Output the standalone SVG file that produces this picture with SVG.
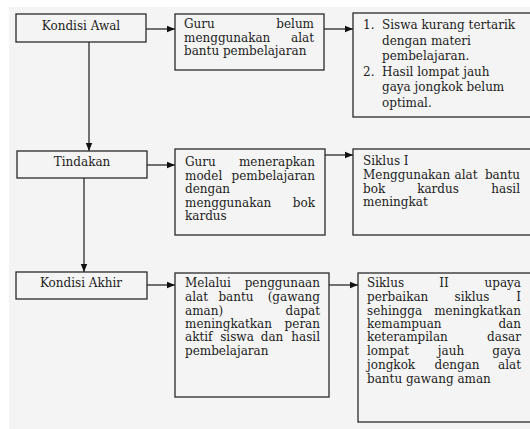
<svg xmlns="http://www.w3.org/2000/svg" width="530" height="429" viewBox="0 0 530 429">
<style>
.bx{fill:none;stroke:#2a2a2a;stroke-width:1.3}
.cn{stroke:#1a1a1a;stroke-width:1.2;fill:none}
text{font-family:"DejaVu Serif","Liberation Serif",serif;font-size:12px;fill:#1c1c1c}
.c{text-anchor:middle}
.e{text-anchor:end}
.m{text-anchor:middle}
</style>
<defs>
<marker id="ah" viewBox="0 0 8 8" refX="8" refY="4" markerWidth="8" markerHeight="8" markerUnits="userSpaceOnUse" orient="auto">
<path d="M0,0.8 L8,4 L0,7.2 Z" fill="#111"/>
</marker>
</defs>
<rect x="0" y="0" width="530" height="429" fill="#ffffff"/>
<rect x="9" y="7" width="521" height="422" fill="#f4f4f4"/>

<g id="connectors">
<line class="cn" x1="146" y1="29" x2="175" y2="29" marker-end="url(#ah)"/>
<line class="cn" x1="324" y1="29" x2="353" y2="29" marker-end="url(#ah)"/>
<line class="cn" x1="89" y1="42" x2="89" y2="151" marker-end="url(#ah)"/>
<line class="cn" x1="147" y1="165" x2="175" y2="165" marker-end="url(#ah)"/>
<line class="cn" x1="325" y1="155" x2="353" y2="155" marker-end="url(#ah)"/>
<line class="cn" x1="84" y1="178" x2="84" y2="272" marker-end="url(#ah)"/>
<line class="cn" x1="147" y1="285" x2="175" y2="285" marker-end="url(#ah)"/>
<line class="cn" x1="329" y1="285" x2="358" y2="285" marker-end="url(#ah)"/>
</g>

<g id="kondisi-awal">
<rect class="bx" x="16" y="14" width="130" height="28"/>
<text class="c" x="81" y="30">Kondisi Awal</text>
</g>

<g id="guru-belum">
<rect class="bx" x="175" y="14" width="149" height="56"/>
<text x="184" y="28">Guru</text><text class="e" x="314" y="28">belum</text>
<text x="184" y="41.5">menggunakan</text><text class="e" x="314" y="41.5">alat</text>
<text x="184" y="55">bantu pembelajaran</text>
</g>

<g id="masalah">
<rect class="bx" x="353" y="13" width="180" height="104"/>
<text x="363" y="29">1.</text><text x="382" y="29">Siswa kurang tertarik</text>
<text x="382" y="44.6">dengan materi</text>
<text x="382" y="60.2">pembelajaran.</text>
<text x="363" y="75.8">2.</text><text x="382" y="75.8">Hasil lompat jauh</text>
<text x="382" y="91.4">gaya jongkok belum</text>
<text x="382" y="107">optimal.</text>
</g>

<g id="tindakan">
<rect class="bx" x="17" y="151" width="130" height="27"/>
<text class="c" x="82" y="166">Tindakan</text>
</g>

<g id="guru-menerapkan">
<rect class="bx" x="175" y="149" width="150" height="86"/>
<text x="185" y="166">Guru</text><text class="e" x="315" y="166">menerapkan</text>
<text x="185" y="179.5">model</text><text class="e" x="315" y="179.5">pembelajaran</text>
<text x="185" y="193">dengan</text>
<text x="185" y="206.5">menggunakan</text><text class="e" x="315" y="206.5">bok</text>
<text x="185" y="220">kardus</text>
</g>

<g id="siklus-1">
<rect class="bx" x="353" y="149" width="180" height="86"/>
<text x="363" y="165">Siklus I</text>
<text x="363" y="179">Menggunakan</text><text class="m" x="466" y="179">alat</text><text class="e" x="520" y="179">bantu</text>
<text x="363" y="192.5">bok</text><text class="m" x="438" y="192.5">kardus</text><text class="e" x="520" y="192.5">hasil</text>
<text x="363" y="206">meningkat</text>
</g>

<g id="kondisi-akhir">
<rect class="bx" x="16" y="272" width="131" height="27"/>
<text class="c" x="81" y="287">Kondisi Akhir</text>
</g>

<g id="melalui">
<rect class="bx" x="175" y="273" width="154" height="124"/>
<text x="185" y="287">Melalui</text><text class="e" x="320" y="287">penggunaan</text>
<text x="185" y="301">alat</text><text class="m" x="236" y="301">bantu</text><text class="e" x="320" y="301">(gawang</text>
<text x="185" y="315">aman)</text><text class="e" x="320" y="315">dapat</text>
<text x="185" y="328">meningkatkan</text><text class="e" x="320" y="328">peran</text>
<text x="185" y="341">aktif</text><text class="m" x="237" y="341">siswa</text><text class="m" x="272" y="341">dan</text><text class="e" x="320" y="341">hasil</text>
<text x="185" y="355">pembelajaran</text>
</g>

<g id="siklus-2">
<rect class="bx" x="358" y="273" width="175" height="149"/>
<text x="367" y="287">Siklus</text><text class="m" x="444" y="287">II</text><text class="e" x="521" y="287">upaya</text>
<text x="367" y="301">perbaikan</text><text class="m" x="472" y="301">siklus</text><text class="e" x="521" y="301">I</text>
<text x="367" y="315">sehingga</text><text class="e" x="521" y="315">meningkatkan</text>
<text x="367" y="328">kemampuan</text><text class="e" x="521" y="328">dan</text>
<text x="367" y="341">keterampilan</text><text class="e" x="521" y="341">dasar</text>
<text x="367" y="355">lompat</text><text class="m" x="451" y="355">jauh</text><text class="e" x="521" y="355">gaya</text>
<text x="367" y="369">jongkok</text><text class="m" x="457" y="369">dengan</text><text class="e" x="521" y="369">alat</text>
<text x="367" y="383">bantu gawang aman</text>
</g>
</svg>
